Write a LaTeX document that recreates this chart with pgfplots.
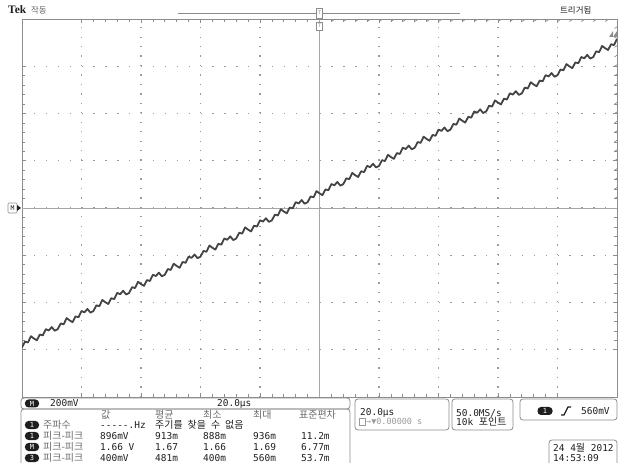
\documentclass[border=0pt]{standalone}
\usepackage{pgfplots}
\pgfplotsset{compat=1.18}
\usepackage{fontspec}
\setmainfont{DejaVu Sans}
\newfontfamily\mono{DejaVu Sans Mono}
\newfontfamily\kr{Noto Sans CJK KR}
\newfontfamily\tek{Liberation Serif}
\definecolor{tracec}{HTML}{444444}
\definecolor{gridc}{HTML}{9A9A9A}
\definecolor{centc}{HTML}{A6A6A6}
\definecolor{framec}{HTML}{8C8C8C}
\definecolor{txt}{HTML}{1E1E1E}
\definecolor{greyt}{HTML}{6A6A6A}
\newcommand{\ms}{\mono\fontsize{9.5}{10}\selectfont}
\newcommand{\ks}{\kr\fontsize{10}{11}\selectfont}
\begin{document}
\begin{tikzpicture}
\path[use as bounding box] (0,0) rectangle (622bp,463bp);
\begin{axis}[at={(22bp,66bp)},anchor=south west,scale only axis,
  width=595bp,height=378bp,
  xmin=-5,xmax=5,ymin=-4,ymax=4,
  axis line style={draw=framec,line width=0.9bp},
  tick style={draw=framec,line width=0.7bp},
  xtick={-4,...,4},ytick={-3,...,3},
  minor x tick num=4,minor y tick num=4,
  major tick length=4bp,minor tick length=3bp,
  tick align=inside,
  xticklabels={},yticklabels={},
  xmajorgrids,ymajorgrids,
  x grid style={draw=gridc,line width=1.3bp,dash pattern=on 1.3bp off 8.15bp},
  y grid style={draw=gridc,line width=1.3bp,dash pattern=on 1.3bp off 10.6bp},
]
\draw[centc,line width=0.6bp] (axis cs:-5,0) -- (axis cs:5,0);
\draw[centc,line width=0.6bp] (axis cs:0,-4) -- (axis cs:0,4);
\pgfplotsinvokeforeach{-24,...,24}{\draw[framec,line width=0.7bp] (axis cs:#1*0.2,0) ++(0,-2.5bp) -- ++(0,5bp);}
\pgfplotsinvokeforeach{-19,...,19}{\draw[framec,line width=0.7bp] (axis cs:0,#1*0.2) ++(-2.5bp,0) -- ++(5bp,0);}
\addplot[tracec,line width=1.8bp,line join=round,mark=none] table {
x y
-5.00 -2.950
-4.95 -2.828
-4.90 -2.846
-4.85 -2.714
-4.80 -2.762
-4.75 -2.800
-4.70 -2.678
-4.65 -2.696
-4.60 -2.564
-4.55 -2.592
-4.50 -2.520
-4.45 -2.598
-4.40 -2.566
-4.35 -2.444
-4.30 -2.462
-4.25 -2.330
-4.20 -2.378
-4.15 -2.416
-4.10 -2.294
-4.05 -2.312
-4.00 -2.180
-3.95 -2.208
-3.90 -2.136
-3.85 -2.214
-3.80 -2.182
-3.75 -2.060
-3.70 -2.078
-3.65 -1.946
-3.60 -1.994
-3.55 -2.032
-3.50 -1.910
-3.45 -1.928
-3.40 -1.796
-3.35 -1.824
-3.30 -1.752
-3.25 -1.830
-3.20 -1.798
-3.15 -1.676
-3.10 -1.694
-3.05 -1.562
-3.00 -1.610
-2.95 -1.648
-2.90 -1.526
-2.85 -1.544
-2.80 -1.412
-2.75 -1.440
-2.70 -1.368
-2.65 -1.446
-2.60 -1.414
-2.55 -1.292
-2.50 -1.310
-2.45 -1.178
-2.40 -1.226
-2.35 -1.264
-2.30 -1.142
-2.25 -1.160
-2.20 -1.028
-2.15 -1.056
-2.10 -0.984
-2.05 -1.062
-2.00 -1.030
-1.95 -0.908
-1.90 -0.926
-1.85 -0.794
-1.80 -0.842
-1.75 -0.880
-1.70 -0.758
-1.65 -0.776
-1.60 -0.644
-1.55 -0.672
-1.50 -0.600
-1.45 -0.678
-1.40 -0.646
-1.35 -0.524
-1.30 -0.542
-1.25 -0.410
-1.20 -0.458
-1.15 -0.496
-1.10 -0.374
-1.05 -0.392
-1.00 -0.260
-0.95 -0.288
-0.90 -0.216
-0.85 -0.294
-0.80 -0.262
-0.75 -0.140
-0.70 -0.158
-0.65 -0.026
-0.60 -0.074
-0.55 -0.112
-0.50 0.010
-0.45 -0.008
-0.40 0.124
-0.35 0.096
-0.30 0.168
-0.25 0.090
-0.20 0.122
-0.15 0.244
-0.10 0.226
-0.05 0.358
0.00 0.310
0.05 0.272
0.10 0.394
0.15 0.376
0.20 0.508
0.25 0.480
0.30 0.552
0.35 0.474
0.40 0.506
0.45 0.628
0.50 0.610
0.55 0.742
0.60 0.694
0.65 0.656
0.70 0.778
0.75 0.760
0.80 0.892
0.85 0.864
0.90 0.936
0.95 0.858
1.00 0.890
1.05 1.012
1.10 0.994
1.15 1.126
1.20 1.078
1.25 1.040
1.30 1.162
1.35 1.144
1.40 1.276
1.45 1.248
1.50 1.320
1.55 1.242
1.60 1.274
1.65 1.396
1.70 1.378
1.75 1.510
1.80 1.462
1.85 1.424
1.90 1.546
1.95 1.528
2.00 1.660
2.05 1.632
2.10 1.704
2.15 1.626
2.20 1.658
2.25 1.780
2.30 1.762
2.35 1.894
2.40 1.846
2.45 1.808
2.50 1.930
2.55 1.912
2.60 2.044
2.65 2.016
2.70 2.088
2.75 2.010
2.80 2.042
2.85 2.164
2.90 2.146
2.95 2.278
3.00 2.230
3.05 2.192
3.10 2.314
3.15 2.296
3.20 2.428
3.25 2.400
3.30 2.472
3.35 2.394
3.40 2.426
3.45 2.548
3.50 2.530
3.55 2.662
3.60 2.614
3.65 2.576
3.70 2.698
3.75 2.680
3.80 2.812
3.85 2.784
3.90 2.856
3.95 2.778
4.00 2.810
4.05 2.932
4.10 2.914
4.15 3.046
4.20 2.998
4.25 2.960
4.30 3.082
4.35 3.064
4.40 3.196
4.45 3.168
4.50 3.240
4.55 3.162
4.60 3.194
4.65 3.316
4.70 3.298
4.75 3.430
4.80 3.382
4.85 3.344
4.90 3.466
4.95 3.448
5.00 3.580
};
\end{axis}
\begin{scope}[x=1bp,y=1bp]
% ---- top area
\node[anchor=base west,inner sep=0,font=\tek\bfseries\fontsize{11.5}{12}\selectfont,text=txt] at (8,449) {Tek};
\node[anchor=base west,inner sep=0,font=\kr\fontsize{8.5}{9}\selectfont,text=greyt] at (31,449) {작동};
\draw[framec,line width=0.9bp] (178,449.5) -- (460,449.5);
\draw[framec,fill=white,line width=0.6bp] (316.5,444.5) rectangle (322.5,455);
\node[inner sep=0,font=\mono\fontsize{5}{5}\selectfont,text=framec] at (319.5,450) {T};
\draw[framec,fill=white,line width=0.6bp] (316.5,433) rectangle (322.5,441);
\node[inner sep=0,font=\mono\fontsize{5}{5}\selectfont,text=framec] at (319.5,437) {T};
\node[anchor=base west,inner sep=0,font=\kr\fontsize{8.5}{9}\selectfont,text=txt] at (560,449) {트리거됨};
\fill[framec] (609,426) -- (613,432) -- (613,426) -- cycle;
\fill[framec] (613,426) -- (617,432) -- (617,426) -- cycle;
% ---- left marker
\draw[framec,fill=white,line width=0.6bp,rounded corners=1bp] (8,250) rectangle (17,260);
\node[inner sep=0,font=\mono\fontsize{6.5}{7}\selectfont,text=txt] at (12.5,255) {M};
\fill[txt] (17,252) -- (21,255) -- (17,258) -- cycle;
% ---- bottom bar
\draw[framec,line width=0.8bp,rounded corners=3bp] (21,54) rectangle (350,65);
\node[fill=txt,rounded corners=3.5bp,minimum width=14bp,minimum height=8bp,inner sep=0,font=\mono\fontsize{7}{7}\selectfont,text=white] at (32,59.5) {M};
\node[anchor=west,inner sep=0,font=\ms,text=txt] at (50,59.5) {200mV};
\node[anchor=west,inner sep=0,font=\ms,text=txt] at (217,59.5) {20.0µs};
% ---- measurement box
\draw[framec,line width=0.8bp,rounded corners=3bp] (21,-2) -- (21,54) -- (350,54) -- (350,-2);
\node[anchor=west,inner sep=0,font=\ks,text=greyt] at (101,48) {값};
\node[anchor=west,inner sep=0,font=\ks,text=greyt] at (155,48) {평균};
\node[anchor=west,inner sep=0,font=\ks,text=greyt] at (203,48) {최소};
\node[anchor=west,inner sep=0,font=\ks,text=greyt] at (253,48) {최대};
\node[anchor=west,inner sep=0,font=\ks,text=greyt] at (299,48) {표준편차};
\foreach \yy/\lab in {38/1,27/1,16/M,5/3}{
  \node[fill=txt,rounded corners=3.5bp,minimum width=14bp,minimum height=8bp,inner sep=0,font=\mono\fontsize{7}{7}\selectfont,text=white] at (32,\yy) {\lab};
}
\node[anchor=west,inner sep=0,font=\ks,text=greyt] at (43,38) {주파수};
\foreach \yy in {27,16,5}{\node[anchor=west,inner sep=0,font=\ks,text=greyt] at (43,\yy) {피크-피크};}
\node[anchor=west,inner sep=0,font=\ms,text=txt] at (100,38) {-----.Hz};
\node[anchor=west,inner sep=0,font=\ks,text=txt] at (155,38) {주기를\hspace{5bp}찾을\hspace{5bp}수\hspace{5bp}없음};
\foreach \yy/\a/\b/\c/\d/\e in {27/896mV/913m/888m/936m/11.2m, 16/1.66 V/1.67/1.66/1.69/6.77m, 5/400mV/481m/400m/560m/53.7m}{
  \node[anchor=west,inner sep=0,font=\ms,text=txt] at (100,\yy) {\a};
  \node[anchor=west,inner sep=0,font=\ms,text=txt] at (155,\yy) {\b};
  \node[anchor=west,inner sep=0,font=\ms,text=txt] at (203,\yy) {\c};
  \node[anchor=west,inner sep=0,font=\ms,text=txt] at (253,\yy) {\d};
  \node[anchor=west,inner sep=0,font=\ms,text=txt] at (301,\yy) {\e};
}
% ---- right boxes
\draw[framec,line width=0.8bp,rounded corners=3bp] (355,33) rectangle (449,64);
\node[anchor=west,inner sep=0,font=\ms,text=txt] at (360,50) {20.0µs};
\draw[gridc,fill=white,line width=0.6bp] (359,37.5) rectangle (365,44.5);
\node[anchor=west,inner sep=0,font=\mono\fontsize{8.5}{9}\selectfont,text=gridc] at (366,41) {→▼0.00000 s};
\draw[framec,line width=0.8bp,rounded corners=3bp] (452,33) rectangle (513,64);
\node[anchor=west,inner sep=0,font=\ms,text=txt] at (456,50) {50.0MS/s};
\node[anchor=west,inner sep=0,text=txt] at (456,41) {\ms 10k \ks 포인트};
\draw[framec,line width=0.8bp,rounded corners=3bp] (520,43) rectangle (617,64);
\node[fill=txt,rounded corners=3.5bp,minimum width=15bp,minimum height=8bp,inner sep=0,font=\mono\fontsize{7}{7}\selectfont,text=white] at (545,52) {1};
\draw[txt,line width=1.2bp] (561,48) -- (564,48) -- (568,56) -- (571,56);
\node[anchor=west,inner sep=0,font=\ms,text=txt] at (581,52) {560mV};
\draw[framec,line width=0.8bp,rounded corners=3bp] (549,-2) -- (549,23) -- (617,23) -- (617,-2);
\node[anchor=west,inner sep=0,text=txt] at (553,15) {\ms 24 4\ks 월\ms{} 2012};
\node[anchor=west,inner sep=0,font=\ms,text=txt] at (553,5) {14:53:09};
\end{scope}
\end{tikzpicture}
\end{document}
